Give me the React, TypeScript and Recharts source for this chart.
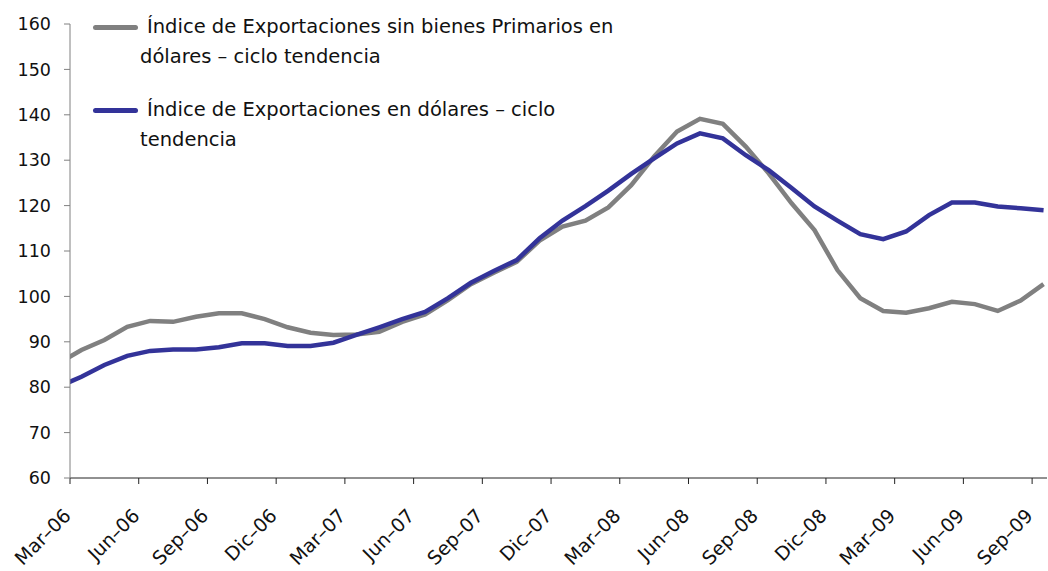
import { LineChart, Line, XAxis, YAxis } from 'recharts';

// monthly points, Feb-06 .. Sep-09 (Feb-06 sits left of the axis and gets clipped)
const months = [
  'Feb-06', 'Mar-06', 'Abr-06', 'May-06', 'Jun-06', 'Jul-06', 'Ago-06', 'Sep-06', 'Oct-06', 'Nov-06', 'Dic-06',
  'Ene-07', 'Feb-07', 'Mar-07', 'Abr-07', 'May-07', 'Jun-07', 'Jul-07', 'Ago-07', 'Sep-07', 'Oct-07', 'Nov-07', 'Dic-07',
  'Ene-08', 'Feb-08', 'Mar-08', 'Abr-08', 'May-08', 'Jun-08', 'Jul-08', 'Ago-08', 'Sep-08', 'Oct-08', 'Nov-08', 'Dic-08',
  'Ene-09', 'Feb-09', 'Mar-09', 'Abr-09', 'May-09', 'Jun-09', 'Jul-09', 'Ago-09', 'Sep-09',
];

const sinPrimarios = [
  85.3, 88.2, 90.4, 93.3, 94.6, 94.4, 95.5, 96.3, 96.3, 95.0, 93.2,
  92.0, 91.5, 91.6, 92.2, 94.4, 96.0, 99.2, 102.7, 105.2, 107.6, 112.3, 115.4,
  116.7, 119.6, 124.5, 130.8, 136.3, 139.1, 138.0, 133.0, 127.1, 120.5, 114.6, 105.8,
  99.6, 96.8, 96.4, 97.4, 98.8, 98.3, 96.8, 99.1, 102.7,
];

const totalExport = [
  80.1, 82.3, 84.9, 86.9, 88.0, 88.3, 88.3, 88.8, 89.7, 89.7, 89.1,
  89.1, 89.8, 91.5, 93.2, 95.0, 96.6, 99.6, 103.0, 105.6, 108.0, 112.8, 116.7,
  119.9, 123.3, 127.0, 130.4, 133.7, 135.9, 134.8, 131.1, 127.8, 123.9, 119.8, 116.7,
  113.7, 112.6, 114.3, 117.9, 120.7, 120.7, 119.8, 119.4, 119.0,
];

const tickLabels = [
  'Mar–06', 'Jun–06', 'Sep–06', 'Dic–06', 'Mar–07', 'Jun–07', 'Sep–07', 'Dic–07',
  'Mar–08', 'Jun–08', 'Sep–08', 'Dic–08', 'Mar–09', 'Jun–09', 'Sep–09',
];

const yTicks = [60, 70, 80, 90, 100, 110, 120, 130, 140, 150, 160];

const FONT = '"DejaVu Sans", sans-serif';
const GRAY = '#808080';
const BLUE = '#333399';

// x = months since start of Mar-06, points plotted mid-month
const data = months.map((m, i) => ({
  month: m,
  x: i - 0.5,
  sinPrimarios: sinPrimarios[i],
  total: totalExport[i],
}));

const xTicks = tickLabels.map((_, i) => i * 3);

const XTick = ({ x, y, payload }: any) => {
  const label = tickLabels[payload.value / 3] ?? '';
  const ax = x + 2;
  const ay = y + 31;
  return (
    <text
      x={ax}
      y={ay}
      textAnchor="end"
      transform={`rotate(-45 ${ax} ${ay})`}
      fontFamily={FONT}
      fontSize={19}
      fill="#111"
    >
      {label}
    </text>
  );
};

const LegendRow = ({ color, first, second, top }: { color: string; first: string; second: string; top: number }) => (
  <div style={{ position: 'absolute', left: 93, top, lineHeight: '30px', fontFamily: FONT, fontSize: 19.5, color: '#111', whiteSpace: 'nowrap' }}>
    <div style={{ display: 'flex', alignItems: 'center' }}>
      <span style={{ display: 'inline-block', width: 45, height: 5, borderRadius: 3, background: color }} />
      <span style={{ marginLeft: 9 }}>{first}</span>
    </div>
    <div style={{ marginLeft: 47 }}>{second}</div>
  </div>
);

export default function App() {
  return (
    <div style={{ position: 'absolute', left: 0, top: 0, width: 1048, height: 571, background: '#fff' }}>
      <LineChart width={1048} height={571} data={data} margin={{ top: 24, right: 1, left: 0, bottom: 0 }}>
        <XAxis
          dataKey="x"
          type="number"
          domain={[0, 42.65]}
          allowDataOverflow
          ticks={xTicks}
          interval={0}
          height={93}
          stroke="#222"
          tickSize={6}
          tickMargin={2}
          tick={<XTick />}
        />
        <YAxis
          domain={[60, 160]}
          ticks={yTicks}
          interval={0}
          width={70}
          stroke={GRAY}
          tickSize={6}
          tickMargin={13}
          tick={{ fill: '#111', fontSize: 17.5, fontFamily: FONT }}
        />
        <Line
          type="linear"
          dataKey="sinPrimarios"
          stroke={GRAY}
          strokeWidth={4.5}
          dot={false}
          isAnimationActive={false}
        />
        <Line
          type="linear"
          dataKey="total"
          stroke={BLUE}
          strokeWidth={4.5}
          dot={false}
          isAnimationActive={false}
        />
      </LineChart>
      <LegendRow color={GRAY} top={12} first="Índice de Exportaciones sin bienes Primarios en" second="dólares – ciclo tendencia" />
      <LegendRow color={BLUE} top={95} first="Índice de Exportaciones en dólares – ciclo" second="tendencia" />
    </div>
  );
}
